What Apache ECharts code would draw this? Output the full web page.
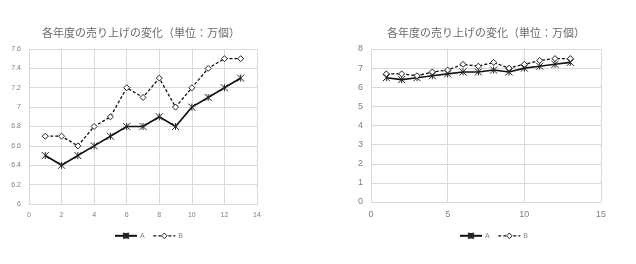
<!DOCTYPE html>
<html><head><meta charset="utf-8">
<script src="https://cdn.jsdelivr.net/npm/echarts@6/dist/echarts.min.js"></script>
<style>html,body{margin:0;padding:0;background:#fff}#c{width:636px;height:264px}</style>
</head><body><div id="c"></div>
<script>
const years = [1,2,3,4,5,6,7,8,9,10,11,12,13];
const seriesA = [6.5,6.4,6.5,6.6,6.7,6.8,6.8,6.9,6.8,7.0,7.1,7.2,7.3];
const seriesB = [6.7,6.7,6.6,6.8,6.9,7.2,7.1,7.3,7.0,7.2,7.4,7.5,7.5];
const titleText = '各年度の売り上げの変化（単位：万個）';
const names = ['A','B'];

const pts = arr => years.map((x,i)=>[x,arr[i]]);
const chart = echarts.init(document.getElementById('c'));
const gridLine = {show:true,lineStyle:{color:'#d9d9d9',width:1}};
const lbl = (fs)=>({color:'#808080',fontSize:fs,fontFamily:'Liberation Sans'});
const xMark = 'path://M0,0L10,10M10,0L0,10M5,0L5,10';
const dash = [3,2];
function mk(name, data, gi, idx){
  const isA = idx===0;
  return {
    name, type:'line', xAxisIndex:gi, yAxisIndex:gi, data,
    symbol: isA ? xMark : 'diamond', symbolSize: isA ? 7 : 6,
    lineStyle:{color:'#111',width:isA?1.6:1.3,type:isA?'solid':dash},
    itemStyle:{color:isA?'#000':'#fff',borderColor:'#222',borderWidth:1},
    animation:false
  };
}
const legendData = [
  {name:names[0]},
  {name:names[1], lineStyle:{type:dash,width:1.3,color:'#111'}, itemStyle:{color:'#fff',borderColor:'#222',borderWidth:1}}
];
const legendBase = {data:legendData,top:227,itemWidth:22,itemHeight:7,itemGap:8,textStyle:{fontSize:7,color:'#808080',padding:[0,0,0,-2]}};
chart.setOption({
  animation:false,
  title:[
    {text:titleText,left:136,top:22,textAlign:'center',textStyle:{fontSize:11,fontWeight:'normal',color:'#6a6a6a',fontFamily:'Noto Sans CJK JP'}},
    {text:titleText,left:481,top:22,textAlign:'center',textStyle:{fontSize:11,fontWeight:'normal',color:'#6a6a6a',fontFamily:'Noto Sans CJK JP'}}
  ],
  legend:[
    Object.assign({left:109},legendBase),
    Object.assign({left:454},legendBase)
  ],
  grid:[
    {left:29,top:49,width:228,height:155},
    {left:371,top:49,width:230,height:153}
  ],
  xAxis:[
    {gridIndex:0,type:'value',min:0,max:14,interval:2,splitLine:gridLine,axisLine:{lineStyle:{color:'#d9d9d9'}},axisTick:{show:false},axisLabel:lbl(7)},
    {gridIndex:1,type:'value',min:0,max:15,interval:5,splitLine:gridLine,axisLine:{lineStyle:{color:'#d9d9d9'}},axisTick:{show:false},axisLabel:lbl(9)}
  ],
  yAxis:[
    {gridIndex:0,type:'value',min:6,max:7.6,interval:0.2,splitLine:gridLine,axisLine:{show:false},axisTick:{show:false},axisLabel:lbl(7)},
    {gridIndex:1,type:'value',min:0,max:8,interval:1,splitLine:gridLine,axisLine:{show:false},axisTick:{show:false},axisLabel:lbl(9)}
  ],
  series:[
    mk(names[0],pts(seriesA),0,0), mk(names[1],pts(seriesB),0,1),
    mk(names[0],pts(seriesA),1,0), mk(names[1],pts(seriesB),1,1)
  ]
});
</script></body></html>
